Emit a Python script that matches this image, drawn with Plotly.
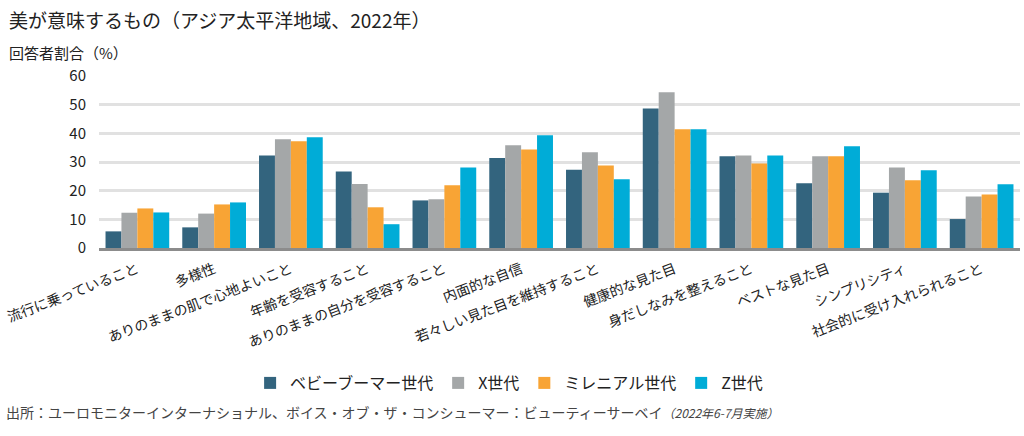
import plotly.graph_objects as go

categories = ["流行に乗っていること", "多様性", "ありのままの肌で心地よいこと", "年齢を受容すること",
              "ありのままの自分を受容すること", "内面的な自信", "若々しい見た目を維持すること",
              "健康的な見た目", "身だしなみを整えること", "ベストな見た目", "シンプリシティ",
              "社会的に受け入れられること"]
series_names = ["ベビーブーマー世代", "X世代", "ミレニアル世代", "Z世代"]
boomers = [5.8, 7.2, 32.3, 26.7, 16.6, 31.4, 27.3, 48.7, 32.0, 22.6, 19.3, 10.1]
gen_x = [12.3, 12.0, 37.9, 22.3, 17.0, 35.8, 33.4, 54.3, 32.3, 32.0, 28.1, 18.0]
millennials = [13.8, 15.2, 37.2, 14.2, 21.9, 34.4, 28.8, 41.4, 29.5, 32.0, 23.6, 18.7]
gen_z = [12.4, 15.9, 38.6, 8.3, 28.1, 39.3, 24.0, 41.4, 32.3, 35.5, 27.1, 22.2]
colors = ["#33647e", "#a4a7a8", "#f8a435", "#00acd7"]
y_ticks = [0, 10, 20, 30, 40, 50, 60]

FONT = "Noto Sans CJK JP"

fig = go.Figure()
for name, vals, c in zip(series_names, [boomers, gen_x, millennials, gen_z], colors):
    fig.add_trace(go.Bar(x=categories, y=vals, name=name, marker=dict(color=c, line=dict(width=0))))

PW, PH = 923, 172
fig.update_layout(
    width=1024, height=436,
    paper_bgcolor="white", plot_bgcolor="white",
    margin=dict(l=97, r=4, t=76, b=188),
    barmode="group", bargap=0.17, bargroupgap=0,
    font=dict(family=FONT, color="#222222", size=14),
    showlegend=True,
    legend=dict(orientation="h", x=(508 - 97) / PW, xanchor="center", y=-(383 - 248) / PH, yanchor="middle",
                font=dict(size=16, color="#222222"), itemwidth=30, traceorder="normal",
                itemsizing="constant"),
    annotations=[
        dict(text="美が意味するもの（アジア太平洋地域、2022年）", xref="paper", yref="paper",
             x=-92 / PW, y=1 + (76 - 20) / PH, xanchor="left", yanchor="middle", showarrow=False,
             font=dict(size=19, color="#222222")),
        dict(text="回答者割合（%）", xref="paper", yref="paper",
             x=-92 / PW, y=1 + (76 - 52) / PH, xanchor="left", yanchor="middle", showarrow=False,
             font=dict(size=15, color="#222222")),
        dict(text="出所：ユーロモニターインターナショナル、ボイス・オブ・ザ・コンシューマー：ビューティーサーベイ<span style='font-size:12px'><i>（2022年6-7月実施）</i></span>",
             xref="paper", yref="paper",
             x=-95 / PW, y=-(412 - 248) / PH, xanchor="left", yanchor="middle", showarrow=False,
             font=dict(size=14, color="#444444")),
    ],
)
fig.update_xaxes(tickangle=-21, tickfont=dict(size=14, color="#222222"), showline=True,
                 linecolor="#8c8c8c", linewidth=3, ticks="", showgrid=False, ticklabelstandoff=5)
fig.update_yaxes(range=[0, 60], tickvals=y_ticks, showgrid=True, gridcolor="#e1e1e1", gridwidth=3,
                 zeroline=False, showline=False, tickfont=dict(size=15, color="#222222"), ticks="",
                 ticklabelstandoff=12)

fig.write_html("out.html", config={"displayModeBar": False},
               post_script="document.body.style.margin='0';document.body.style.padding='0';")
